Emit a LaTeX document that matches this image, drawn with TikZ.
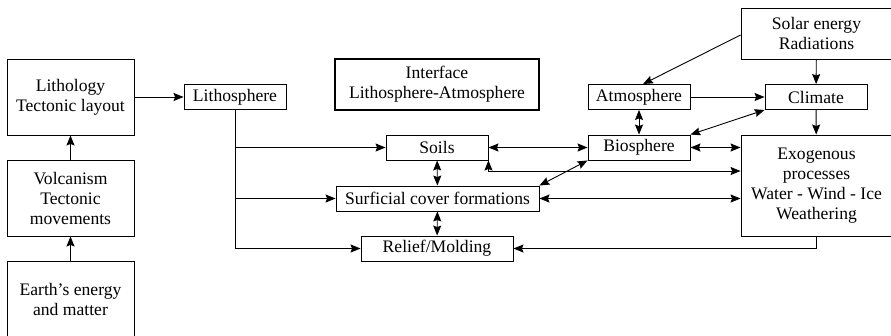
\documentclass[tikz,border=0pt]{standalone}
\usepackage{fontspec}
\setmainfont{Liberation Serif}
\usetikzlibrary{arrows.meta}
\begin{document}
\begin{tikzpicture}[x=1pt,y=-1pt,
  box/.style={draw,line width=0.9pt,inner sep=0pt,align=center,font=\rmfamily\fontsize{17.6}{20}\selectfont},
  thickbox/.style={box,line width=2.2pt},
  tip/.style={},
  conn/.style={line width=0.9pt,-{Stealth[length=10pt,width=8pt,inset=1.5pt]}},
  dconn/.style={line width=0.9pt,{Stealth[length=10pt,width=8pt,inset=1.5pt]}-{Stealth[length=10pt,width=8pt,inset=1.5pt]}},
  plain/.style={line width=0.9pt}]
\useasboundingbox (0,0) rectangle (891,335);
\clip (0,0) rectangle (891,335);
% left column
\node[box,minimum width=127pt,minimum height=76pt] (lith) at (70.5,97) {Lithology\\Tectonic layout};
\node[box,minimum width=127pt,minimum height=76pt] (volc) at (70.5,198) {Volcanism\\Tectonic\\movements};
\node[box,minimum width=127pt,minimum height=76pt] (earth) at (70.5,299) {Earth’s energy\\and matter};
% middle
\node[box,minimum width=102pt,minimum height=25pt] (lithos) at (235,97) {Lithosphere};
\node[thickbox,minimum width=204pt,minimum height=51pt] (iface) at (437,84.5) {Interface\\Lithosphere-Atmosphere};
\node[box,minimum width=102pt,minimum height=25pt] (soils) at (437,147.5) {Soils};
\node[box,minimum width=203pt,minimum height=25pt] (surf) at (437.5,198.5) {Surficial cover formations};
\node[box,minimum width=152pt,minimum height=25pt] (relief) at (437,248.5) {Relief/Molding};
% right
\node[box,minimum width=102pt,minimum height=25pt] (atmo) at (639,97) {Atmosphere};
\node[box,minimum width=102pt,minimum height=25pt] (climate) at (816,97) {Climate};
\node[box,minimum width=102pt,minimum height=25pt] (bio) at (639,147.5) {Biosphere};
\node[box,minimum width=151pt,minimum height=51pt] (solar) at (816.5,33.5) {Solar energy\\Radiations};
\node[box,minimum width=151pt,minimum height=101pt] (exo) at (816.5,185.5) {Exogenous\\processes\\Water - Wind - Ice\\Weathering};
% left connectors
\draw[conn] (earth) -- (volc);
\draw[conn] (volc) -- (lith);
\draw[conn] (lith) -- (lithos);
% lithosphere branches
\coordinate (jb) at (lithos.south |- relief.west);
\draw[plain] (lithos.south) -- (jb);
\draw[conn] (lithos.south |- soils.west) -- (soils.west);
\draw[conn] (lithos.south |- surf.west) -- (surf.west);
\draw[conn] (jb) -- (relief.west);
% middle links
\draw[dconn] (soils) -- (surf);
\draw[dconn] (surf) -- (relief);
\draw[dconn] (soils) -- (bio);
\coordinate (c1) at (exo.west |- 0,171);
\draw[dconn] (soils.south east) |- (c1);
\draw[dconn] (surf.east) -- (surf.east -| exo.west);
\draw[dconn] (bio.south west) -- (surf.north east);
\draw[conn] (exo.south) |- (relief.east);
% right links
\coordinate (sw) at (solar.west |- 0,35);
\draw[conn] (sw) -- ([xshift=4pt]atmo.north);
\draw[conn] (solar) -- (climate);
\draw[conn] (atmo) -- (climate);
\draw[dconn] (atmo) -- (bio);
\draw[dconn] (climate.south west) -- (bio.north east);
\draw[conn] (climate) -- (exo);
\draw[dconn] (bio) -- (bio -| exo.west);
\end{tikzpicture}
\end{document}
